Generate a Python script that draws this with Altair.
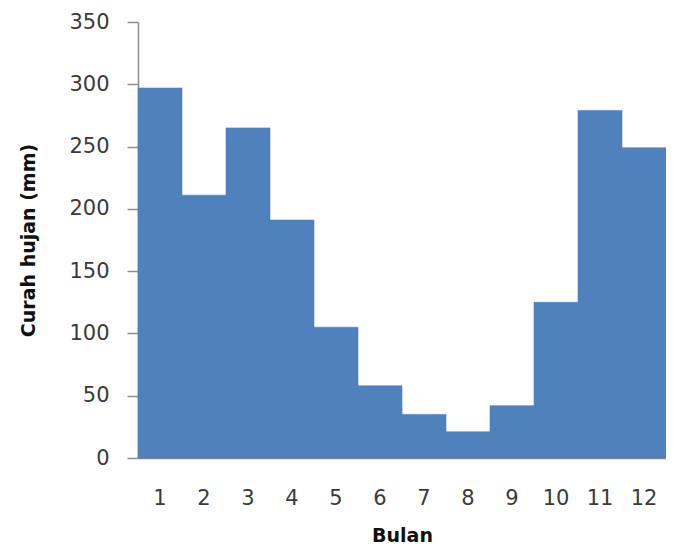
import altair as alt
import pandas as pd

months = [str(i) for i in range(1, 13)]
rain = [297, 211, 265, 191, 105, 58, 35, 21, 42, 125, 279, 249]

df = pd.DataFrame({"Bulan": months, "Curah": rain})

chart = alt.Chart(df).mark_bar(color="#4F81BD", stroke="#4F81BD", strokeWidth=0.6).encode(
    x=alt.X("Bulan:O", sort=months,
            scale=alt.Scale(paddingInner=0, paddingOuter=0),
            axis=alt.Axis(title="Bulan", labelAngle=0, ticks=False,
                          domainColor="#8c8c8c", domainWidth=1.5,
                          labelFont="DejaVu Sans", labelFontSize=21,
                          labelColor="#3a3a3a", labelPadding=29,
                          titleFont="DejaVu Sans", titleFontSize=19,
                          titleFontWeight="bold", titleColor="#111111",
                          titlePadding=18)),
    y=alt.Y("Curah:Q", scale=alt.Scale(domain=[0, 350], nice=False),
            axis=alt.Axis(title="Curah hujan (mm)", values=list(range(0, 351, 50)),
                          grid=False, tickSize=11, tickColor="#8c8c8c",
                          tickWidth=1.5, domainColor="#8c8c8c", domainWidth=1.5,
                          labelFont="DejaVu Sans", labelFontSize=21,
                          labelColor="#3a3a3a", labelPadding=18,
                          titleFont="DejaVu Sans", titleFontSize=19,
                          titleFontWeight="bold", titleColor="#111111",
                          titleX=-110, titleBaseline="middle", titleY=218)),
).properties(
    width=528, height=436,
    autosize=alt.AutoSizeParams(type="none"),
    padding={"left": 130, "top": 14, "right": 0, "bottom": 91},
).configure_view(stroke=None)

chart.save("out.html", embed_options={"renderer": "svg", "actions": False})
